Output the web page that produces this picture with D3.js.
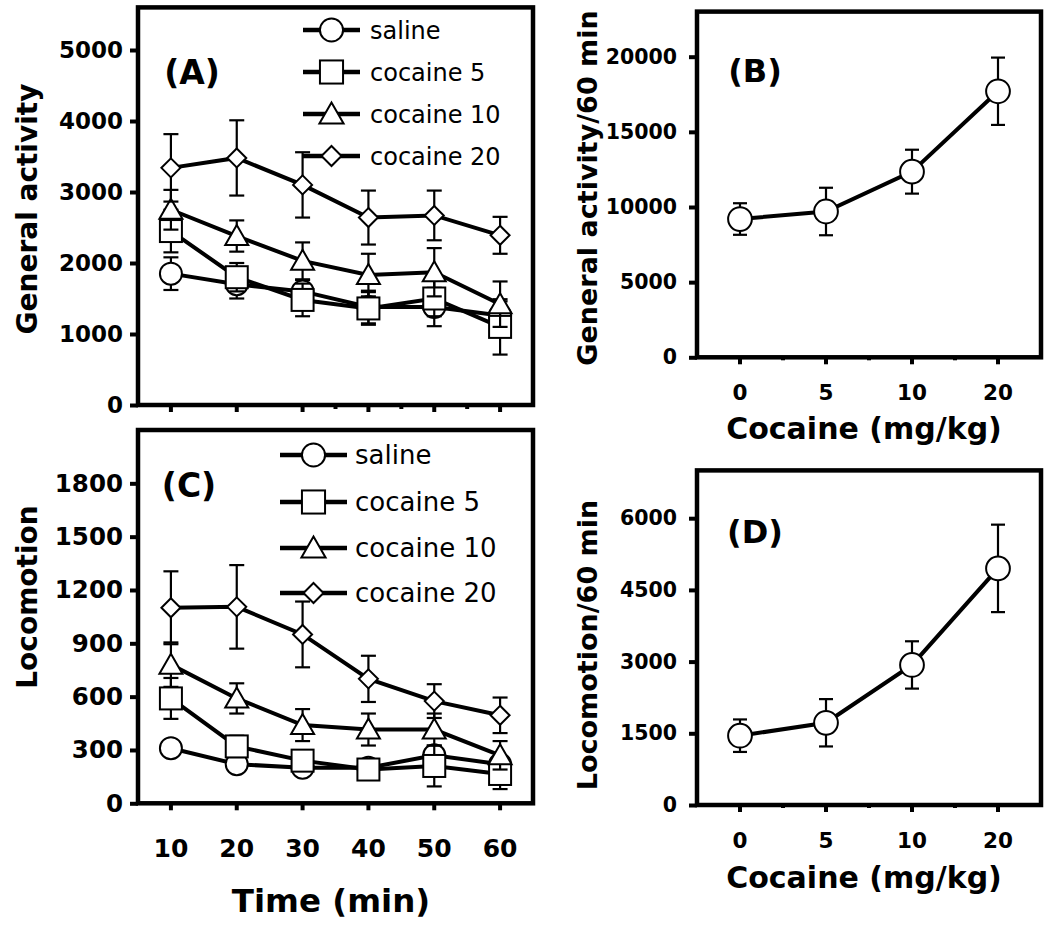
<!DOCTYPE html>
<html><head><meta charset="utf-8">
<script src="https://cdn.jsdelivr.net/npm/d3@7"></script>
<style>body{margin:0;background:#fff} svg{display:block}</style>
</head><body>
<svg id="chart" width="1050" height="935"></svg>
<script>
// ---------- data ----------
const times = [10, 20, 30, 40, 50, 60];
const seriesNames = ["saline", "cocaine 5", "cocaine 10", "cocaine 20"];
const seriesShapes = ["circle", "square", "triangle", "diamond"];

// (A) General activity per 10-min bin (mean, SEM)
const actSaline   = [1850, 1700, 1600, 1380, 1380, 1260];
const actSalineE  = [230, 200, 160, 230, 270, 200];
const actCoc5     = [2450, 1800, 1480, 1360, 1500, 1100];
const actCoc5E    = [300, 200, 230, 230, 250, 390];
const actCoc10    = [2750, 2380, 2030, 1830, 1870, 1420];
const actCoc10E   = [280, 220, 260, 300, 340, 320];
const actCoc20    = [3340, 3480, 3100, 2640, 2670, 2390];
const actCoc20E   = [475, 530, 460, 380, 350, 260];

// (C) Locomotion per 10-min bin
const locSaline   = [310, 220, 200, 200, 270, 220];
const locSalineE  = [35, 30, 30, 30, 45, 35];
const locCoc5     = [590, 320, 240, 190, 210, 165];
const locCoc5E    = [115, 60, 40, 40, 115, 85];
const locCoc10    = [780, 590, 440, 415, 415, 270];
const locCoc10E   = [125, 85, 90, 90, 90, 80];
const locCoc20    = [1100, 1105, 950, 700, 575, 495];
const locCoc20E   = [205, 235, 185, 130, 95, 100];

// (B),(D) totals over 60 min
const doses = ["0", "5", "10", "20"];
const totalAct  = [9200, 9700, 12350, 17700];
const totalActE = [1050, 1580, 1460, 2240];
const totalLoc  = [1450, 1720, 2930, 4950];
const totalLocE = [340, 495, 495, 915];

const ticksA = [0, 1000, 2000, 3000, 4000, 5000];
const ticksC = [0, 300, 600, 900, 1200, 1500, 1800];
const ticksB = [0, 5000, 10000, 15000, 20000];
const ticksD = [0, 1500, 3000, 4500, 6000];

// ---------- drawing ----------
const svg = d3.select("#chart");
const FONT = "'DejaVu Sans', Verdana, sans-serif";

function marker(g, shape, x, y, s) {
  const sw = 2;
  if (shape === "circle") {
    g.append("circle").attr("cx", x).attr("cy", y).attr("r", 11 * s)
      .attr("fill", "#fff").attr("stroke", "#000").attr("stroke-width", sw);
  } else if (shape === "square") {
    const h = 11 * s;
    g.append("rect").attr("x", x - h).attr("y", y - h).attr("width", 2 * h).attr("height", 2 * h)
      .attr("fill", "#fff").attr("stroke", "#000").attr("stroke-width", sw);
  } else if (shape === "triangle") {
    const w = 11.5 * s, h = 10 * s;
    g.append("path").attr("d", `M${x},${y - h - 1}L${x + w},${y + h - 1}L${x - w},${y + h - 1}Z`)
      .attr("fill", "#fff").attr("stroke", "#000").attr("stroke-width", sw).attr("stroke-linejoin", "miter");
  } else if (shape === "diamond") {
    const h = 9.5 * s;
    g.append("path").attr("d", `M${x},${y - h}L${x + h},${y}L${x},${y + h}L${x - h},${y}Z`)
      .attr("fill", "#fff").attr("stroke", "#000").attr("stroke-width", sw);
  }
}

function frame(x, y, ticks, tickFs, opts) {
  const g = svg.append("g");
  const [x0, x1] = opts.xr;
  const [yb, yt] = y.range();
  // left axis
  const ay = d3.axisLeft(y).tickValues(ticks).tickFormat(d3.format("d")).tickSize(8).tickPadding(opts.yPad);
  const gy = g.append("g").attr("transform", `translate(${x0},0)`).call(ay);
  gy.select(".domain").remove();
  gy.selectAll(".tick line").attr("stroke", "#000").attr("stroke-width", 4);
  gy.selectAll(".tick text").attr("font-family", FONT).attr("font-weight", "bold")
    .attr("font-size", tickFs).attr("fill", "#000");
  // bottom axis
  const gx = g.append("g").attr("transform", `translate(0,${yb})`);
  opts.bottomTicks.forEach(t => {
    gx.append("line").attr("x1", t.x).attr("x2", t.x).attr("y1", 0).attr("y2", t.len)
      .attr("stroke", "#000").attr("stroke-width", 4);
    if (t.label !== undefined) {
      gx.append("text").attr("x", t.x).attr("y", opts.xLabY).attr("text-anchor", "middle")
        .attr("font-family", FONT).attr("font-weight", "bold").attr("font-size", opts.xFs)
        .text(t.label);
    }
  });
  // box
  g.append("rect").attr("x", x0).attr("y", yt).attr("width", x1 - x0).attr("height", yb - yt)
    .attr("fill", "none").attr("stroke", "#000").attr("stroke-width", 4.5);
  return g;
}

function errbars(g, pts, cap) {
  pts.forEach(p => {
    g.append("line").attr("x1", p.x).attr("x2", p.x).attr("y1", p.hi).attr("y2", p.lo)
      .attr("stroke", "#000").attr("stroke-width", 2.2);
    [p.hi, p.lo].forEach(yy => g.append("line").attr("x1", p.x - cap).attr("x2", p.x + cap)
      .attr("y1", yy).attr("y2", yy).attr("stroke", "#000").attr("stroke-width", 2.2));
  });
}

function seriesPanel(y, vals, errs, x) {
  const g = svg.append("g");
  const line = d3.line().x((d, i) => x(times[i])).y(d => y(d));
  vals.forEach((v, si) => {
    const sg = g.append("g");
    errbars(sg, v.map((d, i) => ({ x: x(times[i]), hi: y(d + errs[si][i]), lo: y(d - errs[si][i]) })), 7.5);
    sg.append("path").attr("d", line(v)).attr("fill", "none").attr("stroke", "#000").attr("stroke-width", 4);
    v.forEach((d, i) => marker(sg, seriesShapes[si], x(times[i]), y(d), 1));
  });
}

function legend(x1, x2, tx, ys, fs) {
  const g = svg.append("g");
  seriesNames.forEach((n, i) => {
    g.append("line").attr("x1", x1).attr("x2", x2).attr("y1", ys[i]).attr("y2", ys[i])
      .attr("stroke", "#000").attr("stroke-width", 4.5);
    marker(g, seriesShapes[i], (x1 + x2) / 2, ys[i], 1.05);
    g.append("text").attr("x", tx).attr("y", ys[i]).attr("dy", "0.36em")
      .attr("font-family", FONT).attr("font-size", fs).text(n);
  });
}

function label(txt, x, y, fs, rot) {
  const t = svg.append("text").attr("text-anchor", "middle").attr("dy", "0.36em")
    .attr("font-family", FONT).attr("font-weight", "bold").attr("font-size", fs).text(txt);
  if (rot) t.attr("transform", `translate(${x},${y}) rotate(-90)`);
  else t.attr("x", x).attr("y", y);
}

// ----- Panel A -----
const xA = d3.scaleLinear().domain([5, 65]).range([138, 533]);
const yA = d3.scaleLinear().domain([0, 5600]).range([405, 7.4]);
frame(xA, yA, ticksA, 23, {
  xr: xA.range(), yPad: 7, xLabY: 0, xFs: 22,
  bottomTicks: times.map(t => ({ x: xA(t), len: 7 })).concat([35, 45, 55].map(t => ({ x: xA(t), len: 4 })))
});
seriesPanel(yA, [actSaline, actCoc5, actCoc10, actCoc20], [actSalineE, actCoc5E, actCoc10E, actCoc20E], xA);
legend(303, 360, 370, [30, 72, 114, 156], 24);
label("(A)", 192, 72, 33);
label("General activity", 27, 209, 28, true);

// ----- Panel C -----
const xC = d3.scaleLinear().domain([5, 65]).range([138, 533]);
const yC = d3.scaleLinear().domain([0, 2100]).range([803.3, 430]);
frame(xC, yC, ticksC, 24.5, {
  xr: xC.range(), yPad: 7, xLabY: 54, xFs: 25,
  bottomTicks: times.map(t => ({ x: xC(t), len: 7, label: String(t) }))
});
seriesPanel(yC, [locSaline, locCoc5, locCoc10, locCoc20], [locSalineE, locCoc5E, locCoc10E, locCoc20E], xC);
legend(280, 347, 355, [455, 502, 548, 593], 26);
label("(C)", 189, 485, 33);
label("Locomotion", 27, 597, 28, true);
label("Time (min)", 331, 900, 32.5);

// ----- Panels B & D -----
function dosePanel(y, ticks, vals, errs, tag, tagY, title, titleY, xtitleY) {
  const x = d3.scaleBand().domain(doses).range([697, 1041]);
  const cx = d => x(d) + x.bandwidth() / 2;
  const bt = doses.map(d => ({ x: cx(d), len: 7, label: d }))
    .concat(doses.slice(1).map(d => ({ x: x(d), len: 3 })));
  frame(x, y, ticks, 20.5, { xr: x.range(), yPad: 12, xLabY: 43, xFs: 21.5, bottomTicks: bt });
  const g = svg.append("g");
  errbars(g, vals.map((v, i) => ({ x: cx(doses[i]), hi: y(v + errs[i]), lo: y(v - errs[i]) })), 7);
  const line = d3.line().x((d, i) => cx(doses[i])).y(d => y(d));
  g.append("path").attr("d", line(vals)).attr("fill", "none").attr("stroke", "#000").attr("stroke-width", 4);
  vals.forEach((v, i) => marker(g, "circle", cx(doses[i]), y(v), 1.08));
  label(tag, 755, tagY, 32);
  label(title, 587, titleY, 27, true);
  label("Cocaine (mg/kg)", 864, xtitleY, 30);
}
const yB = d3.scaleLinear().domain([0, 23000]).range([357.3, 11.6]);
dosePanel(yB, ticksB, totalAct, totalActE, "(B)", 70, "General activity/60 min", 188, 428);
const yD = d3.scaleLinear().domain([0, 7000]).range([805, 470.4]);
dosePanel(yD, ticksD, totalLoc, totalLocE, "(D)", 531, "Locomotion/60 min", 645, 877);
</script>
</body></html>
